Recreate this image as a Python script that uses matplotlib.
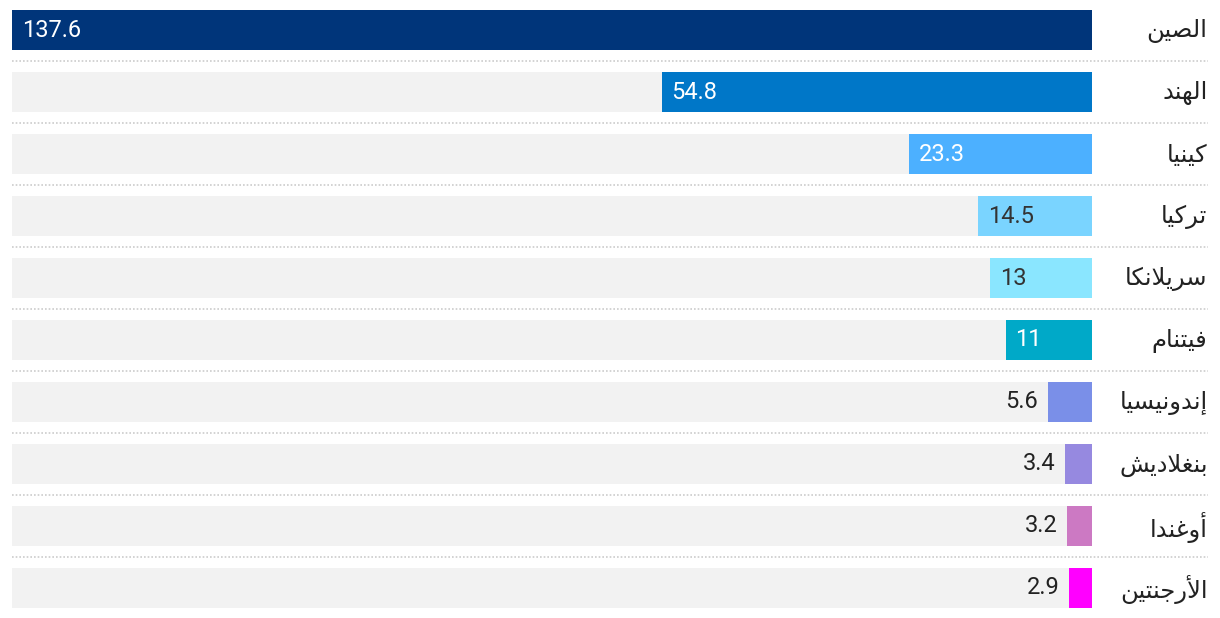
import matplotlib
matplotlib.use("Agg")
from matplotlib import pyplot as plt
from matplotlib import transforms

# countries from top to bottom, values and bar colours
countries = ["الصين", "الهند", "كينيا", "تركيا", "سريلانكا",
             "فيتنام", "إندونيسيا", "بنغلاديش", "أوغندا", "الأرجنتين"]
values = [137.6, 54.8, 23.3, 14.5, 13, 11, 5.6, 3.4, 3.2, 2.9]
value_labels = ["137.6", "54.8", "23.3", "14.5", "13", "11", "5.6", "3.4", "3.2", "2.9"]
colors = ["#00357a", "#0077c8", "#4cb0ff", "#7ad4ff", "#8ae6ff",
          "#00a9c8", "#7a8fe8", "#9689e0", "#cc79c3", "#ff00ff"]
text_colors = ["white", "white", "white", "#333333", "#333333",
               "white", "#222222", "#222222", "#222222", "#222222"]

# matplotlib does no arabic shaping, so pick the presentation forms by hand
# (isolated, final, initial, medial); two entries = joins only to the right
forms = {
    "ا": "\uFE8D\uFE8E", "أ": "\uFE83\uFE84", "إ": "\uFE87\uFE88",
    "ب": "\uFE8F\uFE90\uFE91\uFE92", "ت": "\uFE95\uFE96\uFE97\uFE98",
    "ج": "\uFE9D\uFE9E\uFE9F\uFEA0", "د": "\uFEA9\uFEAA", "ر": "\uFEAD\uFEAE",
    "س": "\uFEB1\uFEB2\uFEB3\uFEB4", "ش": "\uFEB5\uFEB6\uFEB7\uFEB8",
    "ص": "\uFEB9\uFEBA\uFEBB\uFEBC", "غ": "\uFECD\uFECE\uFECF\uFED0",
    "ف": "\uFED1\uFED2\uFED3\uFED4", "ك": "\uFED9\uFEDA\uFEDB\uFEDC",
    "ل": "\uFEDD\uFEDE\uFEDF\uFEE0", "م": "\uFEE1\uFEE2\uFEE3\uFEE4",
    "ن": "\uFEE5\uFEE6\uFEE7\uFEE8", "ه": "\uFEE9\uFEEA\uFEEB\uFEEC",
    "و": "\uFEED\uFEEE", "ي": "\uFEF1\uFEF2\uFEF3\uFEF4",
    "لا": "\uFEFB\uFEFC", "لأ": "\uFEF7\uFEF8", "لإ": "\uFEF9\uFEFA",
}


def shape(word):
    # merge lam + alef into one ligature unit
    units = []
    i = 0
    while i < len(word):
        if word[i] == "ل" and i + 1 < len(word) and word[i:i + 2] in forms:
            units.append(word[i:i + 2])
            i += 2
        else:
            units.append(word[i])
            i += 1
    out = []
    for k, u in enumerate(units):
        f = forms[u]
        prev = k > 0 and len(forms[units[k - 1]]) == 4
        nxt = len(f) == 4 and k + 1 < len(units)
        if prev and nxt:
            out.append(f[3])
        elif nxt:
            out.append(f[2])
        elif prev:
            out.append(f[1])
        else:
            out.append(f[0])
    # visual order is right to left
    return "".join(out)[::-1]


n = len(values)
rows = list(range(n))

fig = plt.figure(figsize=(12.2, 6.18), dpi=100)
ax = fig.add_axes([12 / 1220, 0, 1080 / 1220, 1])

# grey track behind every bar, then the bars themselves
ax.barh(rows, [values[0]] * n, height=40 / 62, color="#f2f2f2")
ax.barh(rows, values, height=40 / 62, color=colors)

ax.set_xlim(values[0], 0)
ax.set_ylim(n - 1 + 0.484, -0.484)
ax.axis("off")

# dotted separators run under the labels too
for i in range(n - 1):
    ax.axhline(i + 0.5, xmin=0, xmax=1.107, color="#cccccc", linestyle=(0, (1, 1.2)),
               linewidth=1.2, clip_on=False)

trans = transforms.blended_transform_factory(ax.transAxes, ax.transData)
for i in rows:
    ax.text(1.107, i + 0.02, shape(countries[i]), transform=trans, ha="right", va="center",
            fontsize=17.5, family=["DejaVu Sans"], color="#222222")
    if values[i] >= 10:
        ax.annotate(value_labels[i], (values[i], i), xytext=(7, 0), textcoords="offset points",
                    ha="left", va="center", fontsize=17, family=["Roboto", "DejaVu Sans"],
                    color=text_colors[i])
    else:
        ax.annotate(value_labels[i], (values[i], i), xytext=(-7, 0), textcoords="offset points",
                    ha="right", va="center", fontsize=17, family=["Roboto", "DejaVu Sans"],
                    color=text_colors[i])

fig.savefig("out.png", dpi=100)
